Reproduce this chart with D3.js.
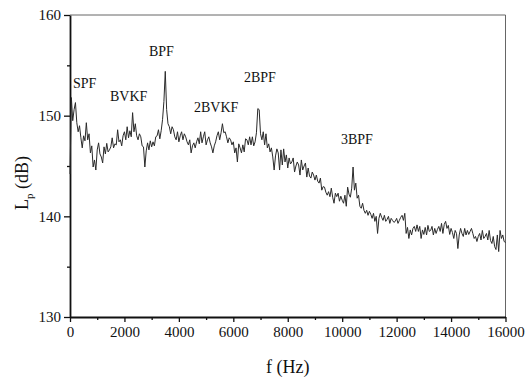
<!DOCTYPE html>
<html>
<head>
<meta charset="utf-8">
<script src="https://cdn.jsdelivr.net/npm/d3@7"></script>
</head>
<body style="margin:0; background:#fff">
<svg id="chart"></svg>
<script>
// sound pressure level spectrum, one value every 50 Hz from 0 to 16000 Hz
const freqStep = 50
const levels = [
  144.2,
  151.8, 149.5, 150.6, 151.3, 149.3, 148.4, 149.0, 147.8, 146.8, 148.0, 147.5, 149.3, 147.6, 148.2, 146.3, 147.0, 144.9, 145.6, 144.6, 146.6,
  147.3, 146.2, 145.9, 145.3, 146.9, 146.2, 147.25, 146.4, 146.6, 146.9, 147.8, 146.8, 147.2, 147.1, 148.6, 147.4, 147.6, 147.0, 148.0, 148.4,
  147.6, 148.9, 147.8, 148.5, 147.9, 150.3, 148.4, 149.2, 148.0, 147.6, 148.2, 147.9, 147.0, 146.9, 144.9, 146.5, 147.3, 146.6, 147.5, 146.9,
  147.4, 147.0, 147.9, 148.0, 148.6, 147.7, 148.5, 149.6, 151.4, 154.4, 150.6, 149.2, 148.9, 148.2, 148.9, 148.6, 147.9, 147.6, 148.4, 147.4,
  148.0, 148.4, 147.6, 148.2, 147.9, 147.4, 147.1, 147.6, 146.3, 147.0, 147.3, 146.8, 147.4, 147.8, 147.2, 148.4, 147.3, 147.9, 148.4, 147.1,
  147.6, 147.9, 147.3, 146.9, 146.3, 147.0, 147.4, 148.0, 148.4, 147.6, 148.3, 149.2, 148.3, 148.4, 147.9, 147.3, 147.8, 147.6, 147.1, 147.4,
  146.3, 146.8, 145.4, 147.2, 146.8, 146.3, 147.1, 146.4, 147.7, 147.6, 147.1, 147.9, 147.1, 147.9, 147.0, 147.4, 148.3, 150.7, 150.6, 148.2,
  147.6, 148.4, 147.1, 148.2, 146.8, 147.2, 146.4, 146.8, 145.9, 144.6, 146.0, 146.7, 146.3, 144.6, 146.6, 145.1, 146.7, 145.4, 146.1, 144.8,
  145.8, 145.2, 145.4, 145.8, 144.4, 145.0, 145.4, 145.1, 144.1, 145.6, 144.6, 145.0, 145.3, 143.9, 144.8, 144.0, 143.8, 144.4, 144.1, 143.6,
  144.1, 143.5, 143.3, 143.8, 142.6, 142.95, 142.9, 142.4, 142.1, 142.45, 141.95, 142.8, 141.9, 141.3, 142.3, 141.96, 142.3, 141.5, 142.0, 141.6,
  141.3, 142.1, 141.0, 142.9, 142.2, 141.9, 142.8, 144.9, 142.6, 143.3, 141.8, 142.1, 141.0, 140.8, 141.3, 140.6, 140.3, 140.6, 140.1, 140.5,
  140.2, 139.8, 140.3, 139.5, 140.0, 138.3, 139.8, 140.3, 139.9, 139.6, 140.1, 139.5, 139.7, 140.0, 139.3, 139.8, 139.6, 139.4, 139.5, 139.8,
  139.3, 139.6, 139.9, 140.1, 139.6, 140.3, 138.3, 138.9, 137.8, 138.65, 138.15, 138.8, 139.0, 138.5, 139.15, 138.5, 139.0, 137.8, 138.65, 138.2,
  138.9, 138.15, 139.1, 138.5, 138.6, 139.0, 138.15, 138.8, 138.3, 138.7, 139.0, 138.5, 139.3, 138.3, 139.2, 139.5, 138.8, 139.1, 138.2, 138.8,
  138.4, 137.8, 138.6, 138.3, 136.8, 138.15, 138.8, 138.3, 138.0, 138.8, 138.15, 138.6, 138.2, 138.5, 138.8, 138.3, 137.8, 138.0, 137.5, 138.0,
  138.3, 137.65, 138.6, 137.8, 138.0, 138.3, 137.65, 138.6, 137.6, 137.3, 138.0, 137.0, 136.7, 138.15, 136.5, 138.6, 137.8, 138.15, 137.5, 137.4
]

// peak labels: text, frequency and level where the label baseline sits
const peakNames = ['SPF', 'BVKF', 'BPF', '2BVKF', '2BPF', '3BPF']
const peakFreqs = [110, 1470, 2900, 4555, 6390, 9955]
const peakLevels = [152.7, 151.45, 155.9, 150.4, 153.35, 147.2]

const xTicks = [0, 2000, 4000, 6000, 8000, 10000, 12000, 14000, 16000]
const yTicks = [130, 140, 150, 160]

const width = 525, height = 379
const margin = { top: 15, right: 19.5, bottom: 62, left: 70 }
const serif = '"Liberation Serif"'

const svg = d3.select('#chart').attr('width', width).attr('height', height)

const x = d3.scaleLinear().domain([0, 16000]).range([margin.left, width - margin.right])
const y = d3.scaleLinear().domain([130, 160]).range([height - margin.bottom, margin.top])

const data = levels.map((v, i) => ({ f: i * freqStep, v: v }))

// frame: thin gray top and right
svg.append('line')
    .attr('x1', x(0)).attr('x2', x(16000)).attr('y1', y(160)).attr('y2', y(160))
    .attr('stroke', '#666').attr('stroke-width', 1)
svg.append('line')
    .attr('x1', x(16000)).attr('x2', x(16000)).attr('y1', y(160)).attr('y2', y(130))
    .attr('stroke', '#666').attr('stroke-width', 1)

// minor ticks
svg.append('g')
    .attr('transform', `translate(0,${y(130)})`)
    .call(d3.axisBottom(x).tickValues(d3.range(1000, 16000, 2000)).tickSize(3).tickFormat(''))
    .call(g => g.select('.domain').remove())
    .call(g => g.selectAll('line').attr('stroke', '#111').attr('stroke-width', 1.3))
svg.append('g')
    .attr('transform', `translate(${x(0)},0)`)
    .call(d3.axisLeft(y).tickValues([135, 145, 155]).tickSize(3).tickFormat(''))
    .call(g => g.select('.domain').remove())
    .call(g => g.selectAll('line').attr('stroke', '#111').attr('stroke-width', 1.3))

// main axes
svg.append('g')
    .attr('transform', `translate(0,${y(130)})`)
    .call(d3.axisBottom(x).tickValues(xTicks).tickSize(5).tickSizeOuter(0).tickPadding(4).tickFormat(d3.format('d')))
    .call(g => g.select('.domain').attr('stroke', '#111').attr('stroke-width', 1.8))
    .call(g => g.selectAll('line').attr('stroke', '#111').attr('stroke-width', 1.3))
    .call(g => g.selectAll('text').style('font-family', serif).style('font-size', '15px').attr('fill', '#111'))

svg.append('g')
    .attr('transform', `translate(${x(0)},0)`)
    .call(d3.axisLeft(y).tickValues(yTicks).tickSize(6).tickSizeOuter(0).tickPadding(3))
    .call(g => g.select('.domain').attr('stroke', '#111').attr('stroke-width', 1.8))
    .call(g => g.selectAll('line').attr('stroke', '#111').attr('stroke-width', 1.3))
    .call(g => g.selectAll('text').style('font-family', serif).style('font-size', '15px').attr('fill', '#111'))

// spectrum
const line = d3.line().x(d => x(d.f)).y(d => y(d.v))
svg.append('path')
    .datum(data)
    .attr('fill', 'none')
    .attr('stroke', '#2a2a2a')
    .attr('stroke-width', 1)
    .attr('stroke-linejoin', 'round')
    .attr('d', line)

// peak labels
svg.selectAll('text.peak').data(peakNames).enter()
    .append('text')
    .attr('class', 'peak')
    .attr('x', (d, i) => x(peakFreqs[i]))
    .attr('y', (d, i) => y(peakLevels[i]))
    .style('font-family', serif)
    .style('font-size', '14px')
    .attr('fill', '#111')
    .text(d => d)

// axis titles
svg.append('text')
    .attr('x', (x(0) + x(16000)) / 2)
    .attr('y', 373)
    .attr('text-anchor', 'middle')
    .style('font-family', serif)
    .style('font-size', '18px')
    .attr('fill', '#111')
    .text('f (Hz)')

const yt = svg.append('text')
    .attr('transform', 'translate(28,183) rotate(-90)')
    .attr('text-anchor', 'middle')
    .style('font-family', serif)
    .style('font-size', '18px')
    .attr('fill', '#111')
yt.append('tspan').text('L')
yt.append('tspan').style('font-size', '11px').attr('dy', 5).text('p')
yt.append('tspan').attr('dy', -5).text(' (dB)')
</script>
</body>
</html>
